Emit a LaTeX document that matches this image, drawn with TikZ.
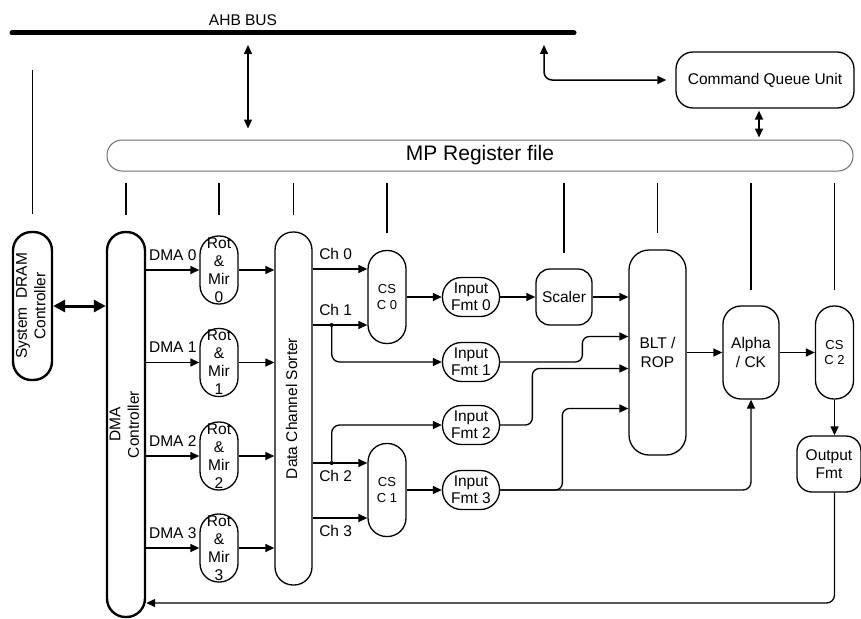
\documentclass[tikz,border=0pt]{standalone}
\usepackage{fontspec}
\setmainfont{Liberation Sans}
\usepackage{graphicx}
\usepackage{tikz}
\usetikzlibrary{arrows.meta}
\definecolor{reggray}{HTML}{6E6E6E}
\newcommand{\vlabel}[1]{\rotatebox{90}{\begin{tabular}{@{}c@{}}#1\end{tabular}}}

\begin{document}
\begin{tikzpicture}[
  x=1pt, y=-1pt,
  box/.style={draw, line width=1.3pt, rounded corners=#1, inner sep=0pt, align=center, font=\fontsize{15.5}{18.5}\selectfont},
  box/.default=15,
  csc/.style={box=18.5, minimum width=38, minimum height=93, font=\fontsize{13}{15.5}\selectfont},
  rotmir/.style={box=18.5, minimum width=38, minimum height=68, font=\fontsize{15.5}{18}\selectfont},
  infmt/.style={box=19, minimum width=57, minimum height=39, font=\fontsize{15.5}{17}\selectfont},
  arr/.style={-{Triangle[length=9pt, width=8pt]}, line width=1.3pt},
  dbl/.style={{Triangle[length=9pt, width=8pt]}-{Triangle[length=9pt, width=8pt]}, line width=1.5pt},
  tap/.style={line width=1.1pt, shorten <=11pt},
  lbl/.style={font=\fontsize{15.5}{18.5}\selectfont, inner sep=0pt}
]
  \useasboundingbox (0,0) rectangle (861,618);

  % AHB bus
  \node[lbl] (ahb) at (243,20) {AHB BUS};
  \draw[line width=5pt, line cap=round] (12,33) coordinate (busw) -- (574,33) coordinate (buse);
  \coordinate (busport) at (248,45);
  \coordinate (cqport) at (544,45);

  % Command queue and register file
  \node[box=17, minimum width=178, minimum height=56] (cqu) at (765,80) {Command Queue Unit};
  \node[box=15, draw=reggray, line width=1pt, minimum width=746, minimum height=31, font=\fontsize{21}{24}\selectfont] (reg) at (480,155.5) {MP Register file};
  \draw[dbl, shorten >=11pt] (busport) -- (busport |- reg.north);
  \draw[dbl, rounded corners=8pt, shorten >=9pt] (cqport) |- (cqu.west);
  \draw[dbl, shorten <=2pt, shorten >=2pt] ([xshift=-6pt]cqu.south) -- ([xshift=-6pt]cqu.south |- reg.north);

  % DRAM and DMA controllers
  \node[box=18.5, line width=2.4pt, minimum width=39, minimum height=148] (dram) at (32.5,306) {\vlabel{System~~DRAM\\Controller}};
  \node[box=18.5, line width=2.4pt, minimum width=38, minimum height=385] (dma) at (126,424.5) {\vlabel{DMA\\Controller}};
  \coordinate (dramtap) at (32.5,70);
  \draw[line width=1.1pt, shorten >=17pt] (dramtap) -- (dram.north);
  \draw[{Triangle[length=12pt, width=12pt]}-{Triangle[length=12pt, width=12pt]}, line width=3pt] (dram) -- (dma.west |- dram);

  % Rot & Mir per DMA channel
  \foreach \i/\y in {0/270,1/362.5,2/456,3/548}{
    \node[rotmir] (rot\i) at (219,\y) {Rot\\\&\\Mir\\\i};
    \draw[arr] (dma.east |- rot\i) -- (rot\i) node[lbl, midway, above=9pt] {DMA \i};
  }

  % Data channel sorter
  \node[box=18, minimum width=37, minimum height=353] (sorter) at (293.5,408.5) {\vlabel{Data Channel Sorter}};
  \foreach \i in {0,...,3}
    \draw[arr] (rot\i) -- (rot\i -| sorter.west);

  % CSC 0 / CSC 1
  \node[csc] (csc0) at (387,297) {CS\\C 0};
  \node[csc] (csc1) at (387,490) {CS\\C 1};
  \coordinate (ch0) at ([yshift=28pt]csc0.west);
  \coordinate (ch1) at ([yshift=-28pt]csc0.west);
  \coordinate (ch2) at ([yshift=27pt]csc1.west);
  \coordinate (ch3) at ([yshift=-28pt]csc1.west);
  \draw[arr] (sorter.east |- ch0) -- (ch0) node[lbl, pos=0, anchor=south west, xshift=6pt, yshift=9pt] {Ch 0};
  \draw[arr] (sorter.east |- ch1) -- (ch1) node[lbl, pos=0, anchor=south west, xshift=6pt, yshift=9pt] {Ch 1};
  \draw[arr] (sorter.east |- ch2) -- (ch2) node[lbl, pos=0, anchor=north west, xshift=6pt, yshift=-7pt] {Ch 2};
  \draw[arr] (sorter.east |- ch3) -- (ch3) node[lbl, pos=0, anchor=north west, xshift=6pt, yshift=-7pt] {Ch 3};

  % Input formatters
  \foreach \i/\y in {0/297,1/362,2/425,3/490}
    \node[infmt] (fmt\i) at (471,\y) {Input\\Fmt \i};
  \coordinate (split1) at ([xshift=19pt]sorter.east |- ch1);
  \coordinate (split2) at ([xshift=19pt]sorter.east |- ch2);
  \fill (split1) circle (2pt);
  \fill (split2) circle (2pt);
  \draw[arr, rounded corners=8pt] (split1) |- (fmt1);
  \draw[arr, rounded corners=8pt] (split2) |- (fmt2);
  \draw[arr] (csc0) -- (fmt0);
  \draw[arr] (csc1) -- (fmt3);

  % Scaler and BLT / ROP
  \node[box=14, minimum width=56, minimum height=56] (scaler) at (564,297) {Scaler};
  \node[box=20, minimum width=57, minimum height=205] (blt) at (657.5,352.5) {BLT /\\ROP};
  \coordinate (blt1) at ([yshift=16pt]blt.west);
  \coordinate (blt2) at ([yshift=-16pt]blt.west);
  \coordinate (blt3) at ([yshift=-56pt]blt.west);
  \draw[arr] (fmt0) -- (scaler);
  \draw[arr] (scaler) -- (scaler -| blt.west);
  \draw[arr, rounded corners=7pt] (fmt1) -| ([xshift=-46pt]blt1) -- (blt1);
  \draw[arr, rounded corners=7pt] (fmt2) -| ([xshift=-96pt]blt2) -- (blt2);
  \draw[arr, rounded corners=7pt] (fmt3) -| ([xshift=-66pt]blt3) -- (blt3);

  % Alpha, CSC 2, output
  \node[box=18, minimum width=56, minimum height=93] (alpha) at (751,352.5) {Alpha\\/ CK};
  \node[csc] (csc2) at (834.5,352.5) {CS\\C 2};
  \node[box=15, minimum width=64, minimum height=56] (outfmt) at (829,464) {Output\\Fmt};
  \draw[arr, rounded corners=8pt] (fmt3) -| (alpha);
  \draw[arr] (blt) -- (alpha);
  \draw[arr] (alpha) -- (csc2);
  \draw[arr] (csc2) -- (csc2 |- outfmt.north);
  \coordinate (fbk) at (csc2 |- 0,603);
  \draw[arr, rounded corners=8pt] (outfmt.south -| csc2) -- (fbk) -- (fbk -| dma.east);

  % register taps
  \foreach \n/\s in {dma/16, rot0/20, sorter/16, csc0/17, scaler/15, blt/16, alpha/15, csc2/15}
    \draw[tap, shorten >=\s pt] (reg.south -| \n.north) -- (\n.north);

\end{tikzpicture}
\end{document}
